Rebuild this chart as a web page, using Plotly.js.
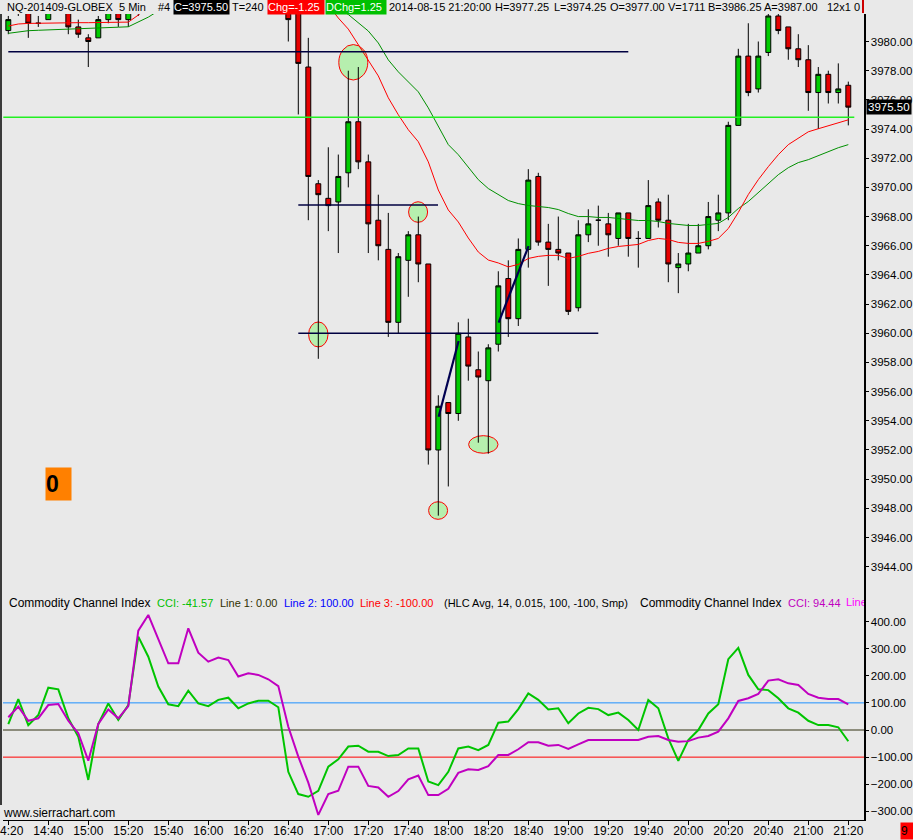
<!DOCTYPE html>
<html>
<head>
<meta charset="utf-8">
<script src="https://cdn.plot.ly/plotly-3.0.1.min.js"></script>
<style>
  html, body { margin: 0; padding: 0; background: #e9e9e9; }
  #chart { width: 913px; height: 840px; }
</style>
</head>
<body>
<div id="chart"></div>
<script>
// ---------------- DATA ----------------
const times = ["14:20","14:25","14:30","14:35","14:40","14:45","14:50","14:55","15:00","15:05","15:10","15:15","15:20","15:25","15:30","15:35","15:40","15:45","15:50","15:55","16:00","16:05","16:10","16:15","16:20","16:25","16:30","16:35","16:40","16:45","16:50","16:55","17:00","17:05","17:10","17:15","17:20","17:25","17:30","17:35","17:40","17:45","17:50","17:55","18:00","18:05","18:10","18:15","18:20","18:25","18:30","18:35","18:40","18:45","18:50","18:55","19:00","19:05","19:10","19:15","19:20","19:25","19:30","19:35","19:40","19:45","19:50","19:55","20:00","20:05","20:10","20:15","20:20","20:25","20:30","20:35","20:40","20:45","20:50","20:55","21:00","21:05","21:10","21:15","21:20"];

const openP  = [3980.75,3982.25,3982.0,3981.25,3981.5,3982.25,3982.0,3981.0,3980.25,3980.25,3981.5,3982.0,3981.5,3982.0,3986.0,3986.75,3986.0,3985.5,3986.0,3987.25,3986.5,3986.25,3987.0,3987.0,3986.25,3986.75,3987.0,3986.75,3986.0,3982.0,3978.25,3970.25,3969.25,3969.0,3971.0,3974.5,3971.75,3967.75,3965.75,3960.75,3965.0,3966.75,3964.75,3952.0,3955.25,3954.5,3959.75,3957.5,3956.75,3959.25,3963.75,3961.0,3965.75,3970.75,3966.25,3965.75,3965.5,3961.75,3966.75,3967.75,3967.5,3966.5,3968.25,3966.5,3966.5,3969.0,3967.75,3964.5,3964.75,3965.5,3966.0,3967.75,3968.25,3974.25,3979.0,3976.75,3979.25,3981.75,3981.0,3979.5,3978.75,3976.5,3977.75,3976.5,3977.0];
const highP  = [3981.75,3982.75,3982.25,3981.75,3982.25,3982.75,3982.25,3981.5,3980.5,3981.75,3982.25,3982.25,3982.25,3986.5,3987.5,3987.25,3986.5,3986.25,3987.75,3987.5,3987.0,3987.25,3987.5,3987.25,3987.0,3987.5,3987.25,3987.0,3986.25,3982.25,3980.25,3970.5,3972.75,3972.25,3978.0,3978.25,3972.25,3969.5,3968.25,3965.5,3967.0,3968.0,3964.75,3955.75,3955.25,3960.75,3961.0,3958.75,3959.25,3964.25,3965.0,3966.5,3971.25,3971.0,3967.5,3968.0,3965.5,3967.75,3968.5,3968.75,3968.25,3968.25,3968.25,3967.0,3970.5,3969.25,3969.5,3965.5,3967.5,3967.5,3969.0,3969.5,3974.5,3979.5,3981.25,3980.0,3982.0,3982.0,3981.0,3980.5,3979.75,3978.25,3978.0,3978.5,3977.25];
const lowP   = [3980.5,3981.75,3980.25,3981.0,3981.5,3982.0,3980.5,3980.25,3978.25,3980.25,3981.25,3981.0,3981.0,3981.75,3985.25,3985.5,3985.0,3985.0,3985.75,3986.25,3986.0,3986.0,3986.5,3986.0,3986.0,3986.5,3986.5,3985.75,3980.0,3975.0,3967.75,3958.25,3967.0,3965.5,3970.0,3971.25,3965.5,3965.0,3959.75,3960.0,3962.5,3963.5,3951.0,3947.5,3949.5,3954.0,3956.75,3952.5,3951.75,3958.75,3959.75,3960.5,3964.5,3966.0,3963.25,3965.0,3961.25,3961.5,3966.25,3966.0,3965.25,3966.0,3965.25,3964.5,3966.5,3967.25,3963.5,3962.75,3964.25,3965.5,3965.75,3967.0,3967.75,3974.25,3976.25,3976.5,3979.0,3980.5,3978.75,3978.25,3975.25,3974.0,3975.75,3975.75,3974.25];
const closeP = [3981.5,3982.0,3981.25,3981.25,3982.0,3982.5,3981.0,3980.5,3980.0,3981.5,3982.0,3981.5,3982.0,3986.0,3986.75,3986.0,3985.5,3986.0,3987.25,3986.5,3986.25,3987.0,3987.0,3986.25,3986.75,3987.0,3986.75,3986.0,3981.5,3978.5,3970.75,3969.5,3968.75,3970.75,3974.5,3971.75,3967.5,3966.0,3960.75,3965.25,3966.75,3964.75,3952.0,3955.0,3954.5,3960.0,3957.75,3957.0,3959.0,3963.25,3961.0,3965.75,3970.5,3966.25,3965.75,3965.5,3961.5,3966.75,3967.5,3967.75,3966.75,3968.25,3966.5,3966.5,3968.75,3967.75,3964.75,3964.75,3965.5,3966.0,3968.0,3968.25,3974.25,3979.0,3976.5,3979.0,3981.75,3980.75,3979.5,3978.75,3976.5,3977.75,3976.5,3976.75,3975.5];

// moving averages (red = fast, green = slow)
const maFast = [3981.06,3981.20,3981.24,3981.26,3981.28,3981.29,3981.29,3981.29,3981.29,3981.29,3981.29,3981.29,3981.33,3981.81,3982.4,3983.0,3983.5,3984.0,3984.6,3985.0,3985.4,3985.8,3986.1,3986.3,3986.5,3986.6,3986.7,3986.6,3986.0,3985.2,3984.3,3983.4,3982.5,3981.61,3980.85,3979.76,3978.74,3977.64,3976.14,3974.98,3973.95,3973.13,3971.75,3969.82,3968.45,3967.63,3966.53,3965.57,3965.02,3964.82,3964.55,3964.72,3965.13,3965.27,3965.34,3965.34,3965.13,3965.27,3965.48,3965.61,3965.82,3965.95,3966.02,3966.09,3966.36,3966.50,3966.43,3966.23,3966.16,3966.16,3966.30,3966.50,3967.18,3968.28,3969.51,3970.53,3971.42,3972.24,3972.93,3973.40,3973.81,3974.02,3974.22,3974.43,3974.63];
const maSlow = [3980.56,3980.65,3980.74,3980.77,3980.79,3980.81,3980.83,3980.85,3980.87,3980.90,3980.94,3980.98,3981.01,3981.35,3981.67,3982.1,3982.5,3982.9,3983.3,3983.7,3984.0,3984.3,3984.6,3984.9,3985.1,3985.3,3985.5,3985.6,3985.4,3985.0,3984.4,3983.7,3983.0,3982.3,3981.85,3981.26,3980.72,3979.90,3978.74,3977.92,3977.23,3976.55,3975.45,3974.15,3972.93,3972.24,3971.42,3970.53,3969.92,3969.51,3969.10,3968.89,3968.76,3968.69,3968.62,3968.48,3968.21,3968.00,3968.00,3967.94,3967.94,3967.87,3967.80,3967.73,3967.73,3967.66,3967.53,3967.46,3967.39,3967.39,3967.46,3967.53,3967.94,3968.55,3969.03,3969.64,3970.26,3970.87,3971.35,3971.70,3971.90,3972.17,3972.45,3972.72,3972.93];

// Commodity Channel Index studies
const cciA = [22,114,18,55,156,150,43,-25,-184,22,98,37,92,344,270,160,95,88,145,98,88,111,119,80,98,108,108,84,-154,-236,-246,-224,-135,-108,-61,-58,-80,-80,-96,-92,-68,-68,-190,-203,-154,-68,-61,-74,-55,27,31,77,135,111,76,80,25,61,82,77,55,64,37,0,111,80,-31,-114,-37,0,61,95,261,303,203,150,147,117,80,64,34,18,18,10,-41.57];
const cciB = [47,86,34,43,92,96,34,-12,-113,22,76,43,88,366,424,338,246,246,375,285,252,267,258,197,209,203,187,162,12,-98,-194,-313,-236,-224,-135,-135,-206,-212,-246,-225,-182,-168,-240,-240,-217,-158,-145,-147,-133,-92,-92,-71,-45,-45,-58,-55,-70,-53,-37,-37,-37,-37,-37,-37,-25,-22,-37,-43,-41,-28,-22,-6,43,107,117,133,182,187,172,166,133,119,114,114,94.44];
const cciLevels = [0, 100, -100];

// price axis ticks and CCI axis ticks
const priceTicks = [3944,3946,3948,3950,3952,3954,3956,3958,3960,3962,3964,3966,3968,3970,3972,3974,3976,3978,3980];
const cciTicks = [-300,-200,-100,0,100,200,300,400];
const timeTickLabels = ["14:20","14:40","15:00","15:20","15:40","16:00","16:20","16:40","17:00","17:20","17:40","18:00","18:20","18:40","19:00","19:20","19:40","20:00","20:20","20:40","21:00","21:20"];

// user drawings on the price chart (price levels, bar spans)
const hLevel = [3979.30, 3968.79, 3960.00];
const hStartBar = [0, 29, 29];
const hEndBar = [62, 42.97, 59];
const refLevel = 3974.80;              // bright green level line
const trendBar0 = [43.03, 49.03], trendPrice0 = [3954.28, 3960.73];
const trendBar1 = [45.03, 52.03], trendPrice1 = [3959.47, 3965.98];
const markBar = [34.5, 31.0, 40.98, 42.98, 47.5];
const markPrice = [3978.575, 3959.92, 3968.31, 3947.85, 3952.38];

// ---------------- LAYOUT GEOMETRY ----------------
const W = 913, H = 840;
const ML = 3, MR = 49, MT = 14, MB = 20;
const plotW = W - ML - MR, plotH = H - MT - MB;
const splitPx = 595;                       // boundary between price and CCI panels
const splitFrac = (H - MB - splitPx) / plotH;
const px = v => (v - ML) / plotW;
const py = v => (H - MB - v) / plotH;

// marker ellipse half sizes (bars, points)
const markHalfW = [1.45, 0.97, 0.95, 0.95, 1.47];
const markHalfH = [1.215, 0.857, 0.706, 0.603, 0.603];

const xIdx = times.map((t, i) => i);
const timeTickVals = timeTickLabels.map(l => times.indexOf(l));

const FONT = "Liberation Sans, Arial, sans-serif";

const traces = [
  {
    type: 'candlestick', x: xIdx, open: openP, high: highP, low: lowP, close: closeP,
    xaxis: 'x', yaxis: 'y',
    increasing: { fillcolor: '#00cc00', line: { color: '#000000', width: 1 } },
    decreasing: { fillcolor: '#e60000', line: { color: '#000000', width: 1 } },
    whiskerwidth: 0, showlegend: false, hoverinfo: 'skip'
  },
  { type: 'scatter', mode: 'lines', x: xIdx, y: maSlow, xaxis: 'x', yaxis: 'y',
    line: { color: '#009000', width: 1 }, showlegend: false, hoverinfo: 'skip' },
  { type: 'scatter', mode: 'lines', x: xIdx, y: maFast, xaxis: 'x', yaxis: 'y',
    line: { color: '#ff0000', width: 1 }, showlegend: false, hoverinfo: 'skip' },
  { type: 'scatter', mode: 'lines', x: xIdx, y: cciA, xaxis: 'x', yaxis: 'y2',
    line: { color: '#00c400', width: 2 }, showlegend: false, hoverinfo: 'skip' },
  { type: 'scatter', mode: 'lines', x: xIdx, y: cciB, xaxis: 'x', yaxis: 'y2',
    line: { color: '#c000c0', width: 2 }, showlegend: false, hoverinfo: 'skip' }
];

const shapes = [];
// CCI level lines
const levelColors = ['#303010', '#1e90ff', '#ff0000'];
cciLevels.forEach((lv, k) => shapes.push({
  type: 'line', xref: 'paper', yref: 'y2', x0: 0, x1: 1, y0: lv, y1: lv,
  line: { color: levelColors[k], width: 1 }, layer: 'below'
}));
// horizontal drawings
hLevel.forEach((lv, k) => shapes.push({
  type: 'line', xref: 'x', yref: 'y', x0: hStartBar[k], x1: hEndBar[k], y0: lv, y1: lv,
  line: { color: '#000040', width: 1.5 }
}));
shapes.push({ type: 'line', xref: 'x', yref: 'y', x0: -0.5, x1: 84.6, y0: refLevel, y1: refLevel,
  line: { color: '#22f022', width: 1.5 } });
// trend lines
trendBar0.forEach((b, k) => shapes.push({
  type: 'line', xref: 'x', yref: 'y', x0: b, x1: trendBar1[k], y0: trendPrice0[k], y1: trendPrice1[k],
  line: { color: '#000050', width: 2.2 }
}));
// highlight ellipses
markBar.forEach((b, k) => shapes.push({
  type: 'circle', xref: 'x', yref: 'y',
  x0: b - markHalfW[k], x1: b + markHalfW[k],
  y0: markPrice[k] - markHalfH[k], y1: markPrice[k] + markHalfH[k],
  fillcolor: '#b6efae', line: { color: '#ff0000', width: 1 }, layer: 'below'
}));
// left border line
shapes.push({ type: 'line', xref: 'paper', yref: 'paper', x0: px(1), x1: px(1), y0: py(805), y1: py(14),
  line: { color: '#000000', width: 1.5 } });
// small red marker at the top right of the header
shapes.push({ type: 'rect', xref: 'paper', yref: 'paper', x0: px(862), x1: px(864), y0: py(13), y1: py(0),
  fillcolor: '#cc0000', line: { width: 0 } });

function txt(text, x, y, color, size, extra) {
  return Object.assign({
    xref: 'paper', yref: 'paper', x: px(x), y: py(y), xanchor: 'left', yanchor: 'middle',
    text: text, showarrow: false, font: { family: FONT, size: size, color: color }
  }, extra || {});
}
function box(text, x0, x1, y0, y1, bg, color, size) {
  return {
    xref: 'paper', yref: 'paper', x: px(x0), y: py(y1), xanchor: 'left', yanchor: 'bottom',
    width: x1 - x0, height: y1 - y0, align: 'left', valign: 'middle', borderpad: 0,
    bgcolor: bg, text: text, showarrow: false, font: { family: FONT, size: size, color: color }
  };
}

const HS = 11;
const LS = 11;
const annotations = [
  txt('NQ-201409-GLOBEX', 5, 7, '#000', HS),
  txt('5 Min', 117, 7, '#000', HS),
  txt('#4', 156, 7, '#000', HS),
  box('C=3975.50', 173, 228, 0, 15, '#000000', '#ffffff', HS),
  txt('T=240', 230, 7, '#000', HS),
  box('Chg=-1.25', 267, 323, 0, 15, '#ff0000', '#ffffff', HS),
  box('DChg=1.25', 325, 385, 0, 15, '#00c000', '#ffffff', HS),
  txt('2014-08-15 21:20:00', 387, 7, '#000', HS),
  txt('H=3977.25', 493, 7, '#000', HS),
  txt('L=3974.25', 552, 7, '#000', HS),
  txt('O=3977.00', 608, 7, '#000', HS),
  txt('V=1711', 666, 7, '#000', HS),
  txt('B=3986.25', 706, 7, '#000', HS),
  txt('A=3987.00', 762, 7, '#000', HS),
  txt('12x1', 825, 7, '#000', HS),
  txt('0', 852, 7, '#000', HS),

  // CCI legend line
  txt('Commodity Channel Index', 7, 603, '#000', 12),
  txt('CCI: -41.57', 155, 603, '#00c000', LS),
  txt('Line 1: 0.00', 218, 603, '#303000', LS),
  txt('Line 2: 100.00', 282, 603, '#0000ff', LS),
  txt('Line 3: -100.00', 358, 603, '#ff0000', LS),
  txt('(HLC Avg, 14, 0.015, 100, -100, Smp)', 442, 603, '#000', LS),
  txt('Commodity Channel Index', 638, 603, '#000', 12),
  txt('CCI: 94.44', 786, 603, '#c000c0', LS),
  box('Line 1', 845, 863, 596, 610, 'rgba(0,0,0,0)', '#ff00ff', LS),

  txt('www.sierrachart.com', 1, 813, '#000', 12),

  // orange box "0"
  box('<b>0</b>', 45, 70, 469, 501, '#ff8000', '#000000', 23),
  // bottom right "9"
  box('9', 900, 913, 824, 840, '#ff0000', '#000000', 12),
  // last price marker on price axis
  {
    xref: 'paper', yref: 'y', x: px(866), y: closeP[closeP.length - 1], xanchor: 'left', yanchor: 'middle',
    text: '3975.50', showarrow: false, bgcolor: '#000000', borderpad: 1,
    font: { family: FONT, size: 11.5, color: '#ffffff' }
  }
];

const layout = {
  width: W, height: H,
  margin: { l: ML, r: MR, t: MT, b: MB, pad: 0 },
  paper_bgcolor: '#e9e9e9', plot_bgcolor: '#e9e9e9',
  font: { family: FONT, size: 11, color: '#000' },
  showlegend: false, hovermode: false, dragmode: false,
  xaxis: {
    anchor: 'y2', range: [-0.53, 85.57], showgrid: false, zeroline: false,
    showline: true, linecolor: '#000', linewidth: 1,
    tickmode: 'array', tickvals: timeTickVals, ticktext: timeTickLabels,
    ticks: 'outside', ticklen: 4, tickcolor: '#000', tickfont: { size: 12, family: FONT },
    ticklabeloverflow: 'allow', ticklabelstandoff: -4,
    rangeslider: { visible: false }, fixedrange: true
  },
  yaxis: {
    domain: [splitFrac, 1], range: [3942.06, 3981.885], side: 'right', anchor: 'x',
    showgrid: false, zeroline: false, showline: true, linecolor: '#000', linewidth: 1.5,
    tickmode: 'array', tickvals: priceTicks, tickformat: '.2f',
    ticks: 'outside', ticklen: 3, tickcolor: '#000', tickfont: { size: 11.5, family: FONT },
    fixedrange: true
  },
  yaxis2: {
    domain: [0, splitFrac], range: [-331.7, 497.6], side: 'right', anchor: 'x',
    showgrid: false, zeroline: false, showline: true, linecolor: '#000', linewidth: 1.5,
    tickmode: 'array', tickvals: cciTicks, tickformat: '.2f',
    ticks: 'outside', ticklen: 3, tickcolor: '#000', tickfont: { size: 11.5, family: FONT },
    fixedrange: true
  },
  shapes: shapes,
  annotations: annotations
};

Plotly.newPlot('chart', traces, layout, { staticPlot: true, displayModeBar: false });
</script>
</body>
</html>
